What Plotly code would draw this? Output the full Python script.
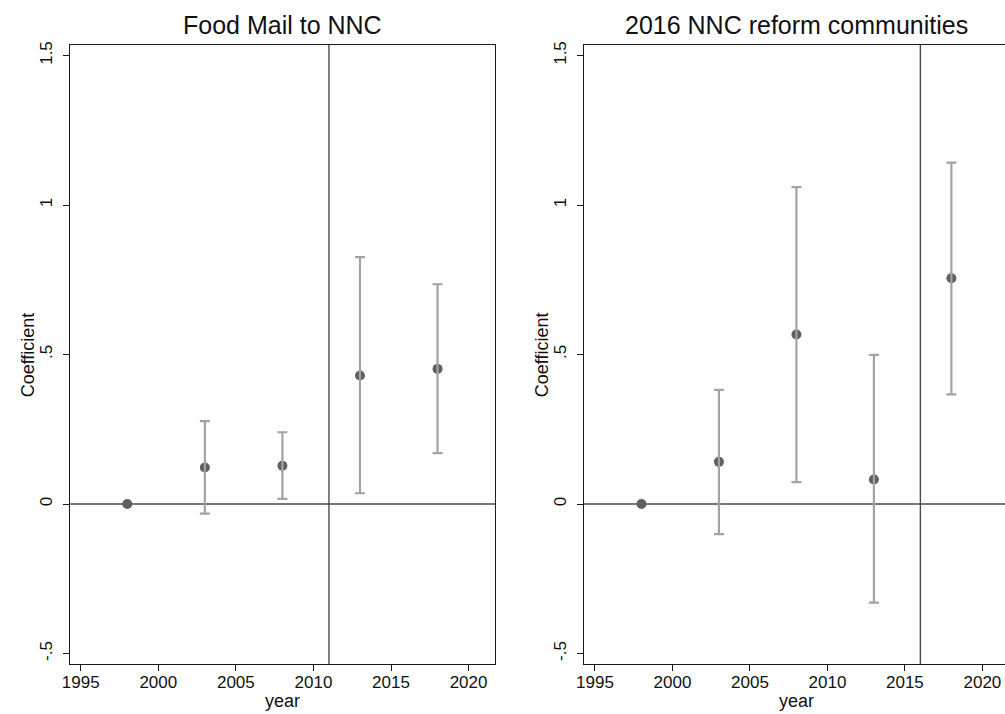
import plotly.graph_objects as go

# ---- data ----
years = [1998, 2003, 2008, 2013, 2018]

left_title = "Food Mail to NNC"
left_est = [0.0, 0.122, 0.128, 0.430, 0.452]
left_lo = [None, -0.032, 0.017, 0.036, 0.170]
left_hi = [None, 0.277, 0.240, 0.826, 0.735]
left_vline = 2011

right_title = "2016 NNC reform communities"
right_est = [0.0, 0.141, 0.567, 0.082, 0.755]
right_lo = [None, -0.101, 0.073, -0.330, 0.367]
right_hi = [None, 0.382, 1.060, 0.499, 1.142]
right_vline = 2016

x_ticks = [1995, 2000, 2005, 2010, 2015, 2020]
y_ticks = [-0.5, 0, 0.5, 1, 1.5]
y_ticklabels = ["-.5", "0", ".5", "1", "1.5"]

# ---- layout constants ----
W, H = 1005, 714
FONT = "Liberation Sans, Arial, sans-serif"
MARK = "#606060"
ERR = "#a3a3a3"
LINE = "#4a4a4a"

top_px, bot_px = 41, 664
ydom = [1 - bot_px / H, 1 - top_px / H]
left_dom = [62.7 / W, 491 / W]
right_dom = [580.3 / W, 1.0]

fig = go.Figure()

panels = [
    ("x", "y", left_est, left_lo, left_hi, left_vline),
    ("x2", "y2", right_est, right_lo, right_hi, right_vline),
]
for xa, ya, est, lo, hi, vl in panels:
    fig.add_trace(go.Scatter(
        x=years, y=est, mode="markers", xaxis=xa, yaxis=ya,
        marker=dict(color=MARK, size=10, line=dict(width=0)),
        showlegend=False, hoverinfo="skip"))
    ex = [yr for yr, h in zip(years, hi) if h is not None]
    ey = [e for e, h in zip(est, hi) if h is not None]
    eplus = [h - e for e, h in zip(est, hi) if h is not None]
    eminus = [e - l for e, l in zip(est, lo) if l is not None]
    fig.add_trace(go.Scatter(
        x=ex, y=ey, mode="markers", xaxis=xa, yaxis=ya,
        marker=dict(color="rgba(0,0,0,0)", size=1),
        error_y=dict(type="data", symmetric=False, array=eplus,
                     arrayminus=eminus, color=ERR, thickness=2.2, width=5),
        showlegend=False, hoverinfo="skip"))
    # zero line
    fig.add_shape(type="line", xref=f"{xa} domain", yref=ya,
                  x0=0, x1=1, y0=0, y1=0,
                  line=dict(color=LINE, width=1.4), layer="below")
    # vertical reform line
    fig.add_shape(type="line", xref=xa, yref=f"{ya} domain",
                  x0=vl, x1=vl, y0=0, y1=1,
                  line=dict(color=LINE, width=1.4), layer="below")

axis_common = dict(
    showgrid=False, zeroline=False, showline=True, linecolor="#1a1a1a",
    linewidth=1.3, ticks="outside", ticklen=6, tickwidth=1.2,
    tickcolor="#1a1a1a", tickfont=dict(family=FONT, size=17, color="#111"),
)

fig.update_layout(
    width=W, height=H,
    margin=dict(l=0, r=0, t=0, b=0),
    paper_bgcolor="white", plot_bgcolor="white",
    xaxis=dict(domain=left_dom, range=[1994.32, 2021.71], tickvals=x_ticks,
               mirror=True, anchor="y", ticklabelstandoff=-4, **axis_common),
    yaxis=dict(domain=ydom, range=[-0.536, 1.536], tickvals=y_ticks,
               ticktext=y_ticklabels, tickangle=-90, mirror=True,
               anchor="x", ticklabelstandoff=4, **axis_common),
    xaxis2=dict(domain=right_dom, range=[1994.27, 2021.46], tickvals=x_ticks,
                mirror=True, anchor="y2", ticklabelstandoff=-4, **axis_common),
    yaxis2=dict(domain=ydom, range=[-0.536, 1.536], tickvals=y_ticks,
                ticktext=y_ticklabels, tickangle=-90, mirror=False,
                anchor="x2", ticklabelstandoff=4, **axis_common),
)

ann_font = dict(family=FONT, color="#111")
annotations = [
    dict(text=left_title, x=277 / W, y=1 - 21 / H, font=dict(size=25, **ann_font)),
    dict(text=right_title, x=794.5 / W, y=1 - 21 / H, font=dict(size=25, **ann_font)),
    dict(text="year", x=277 / W, y=1 - 701 / H, font=dict(size=18, **ann_font)),
    dict(text="year", x=794.5 / W, y=1 - 701 / H, font=dict(size=18, **ann_font)),
    dict(text="Coefficient", x=20 / W, y=1 - 352.5 / H, textangle=-90,
         font=dict(size=18, **ann_font)),
    dict(text="Coefficient", x=538 / W, y=1 - 352.5 / H, textangle=-90,
         font=dict(size=18, **ann_font)),
]
for a in annotations:
    a.update(xref="paper", yref="paper", showarrow=False,
             xanchor="center", yanchor="middle")
fig.update_layout(annotations=annotations)

fig.write_html(
    "out.html",
    config={"displayModeBar": False},
    post_script="document.body.style.margin='0';document.body.style.overflow='hidden';",
)
